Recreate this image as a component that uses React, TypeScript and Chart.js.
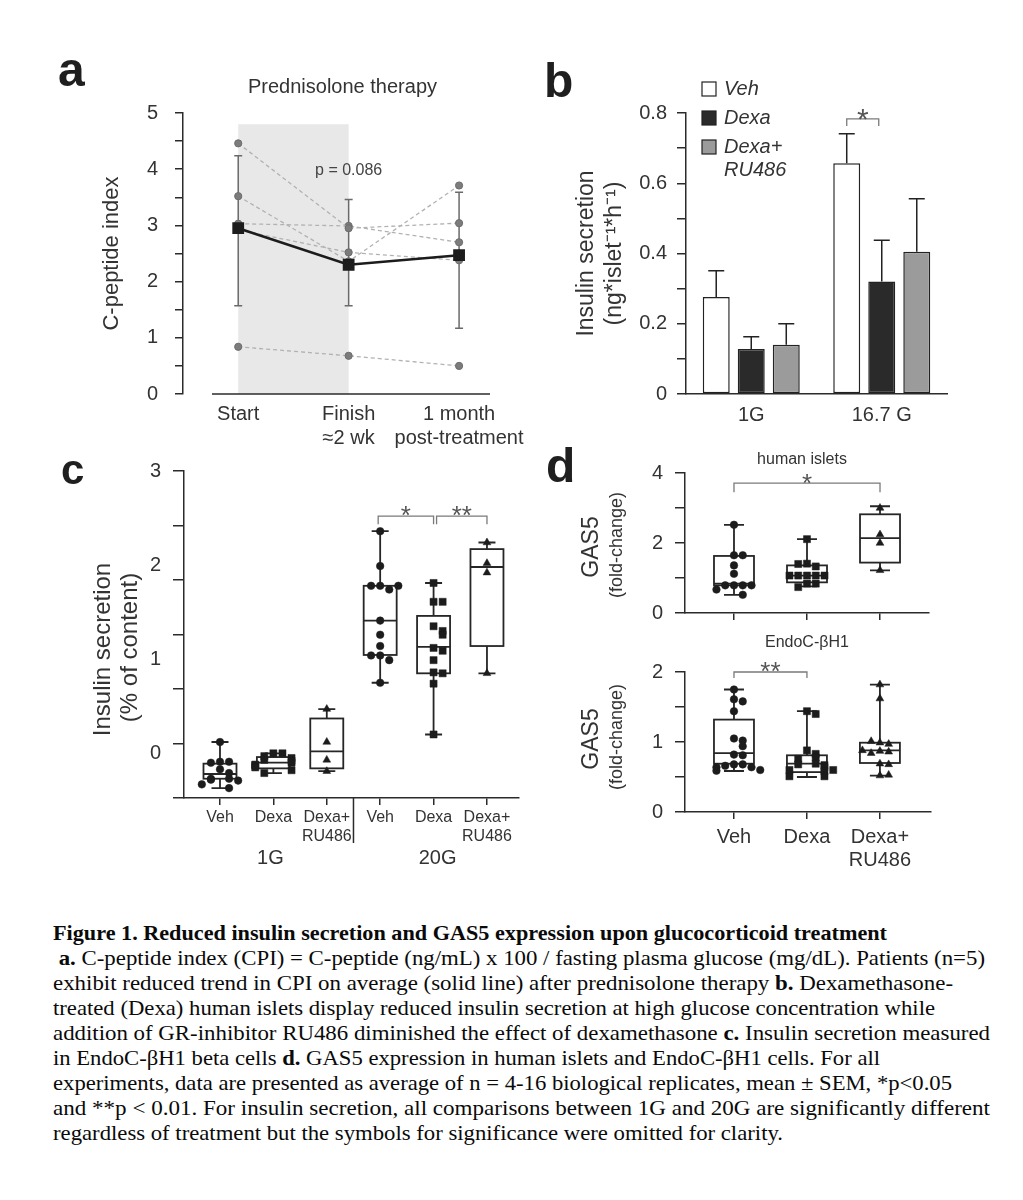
import React, { useEffect, useRef } from 'react';
import { Chart, registerables } from 'chart.js';

Chart.register(...registerables);

const SANS = '"Liberation Sans", Arial, Helvetica, sans-serif';
const INK = '#2b2b2b';
const LABEL = '#333333';

// ---------------- Panel a data ----------------
const aTitle = 'Prednisolone therapy';
const aCategories = [['Start'], ['Finish', '≈2 wk'], ['1 month', 'post-treatment']];
const aPatient1 = [4.46, 2.95, 3.04];
const aPatient2 = [3.52, 2.36, 3.71];
const aPatient3 = [3.03, 2.99, 2.7];
const aPatient4 = [2.92, 2.52, 2.38];
const aPatient5 = [0.84, 0.68, 0.5];
const aMean = [2.95, 2.3, 2.47];
const aLower = [1.57, 1.57, 1.17];
const aUpper = [4.24, 3.46, 3.59];
const aPValue = 'p = 0.086';
const aShadeTop = 4.8;
const aYTitle = 'C-peptide index';

// ---------------- Panel b data ----------------
const bCategories = ['1G', '16.7 G'];
const bSeries = ['Veh', 'Dexa', 'Dexa+ RU486'];
const bVeh = [0.276, 0.657];
const bDexa = [0.128, 0.32];
const bRU486 = [0.14, 0.405];
const bVehSem = [0.075, 0.084];
const bDexaSem = [0.035, 0.118];
const bRU486Sem = [0.06, 0.151];
const bYTitle = ['Insulin secretion', '(ng*islet⁻¹*h⁻¹)'];
const bBracketY = 0.783;

// ---------------- Panel c data ----------------
const cCategories = [['Veh'], ['Dexa'], ['Dexa+', 'RU486'], ['Veh'], ['Dexa'], ['Dexa+', 'RU486']];
const cGroups = ['1G', '20G'];
const cYLabels = [0, 1, 2, 3];
const cYTitle = ['Insulin secretion', '(% of content)'];
const cVeh1G = [0.12, -0.09, -0.09, -0.1, -0.17, -0.21, -0.27, -0.27, -0.28, -0.29, -0.33, -0.37];
const cDexa1G = [0.0, 0.0, -0.03, -0.05, -0.07, -0.08, -0.1, -0.12, -0.13, -0.15, -0.18, -0.21];
const cRU1G = [0.47, 0.12, -0.07, -0.19];
const cVeh20G = [2.36, 1.99, 1.78, 1.74, 1.78, 1.78, 1.41, 1.26, 1.14, 1.04, 0.99, 1.04, 0.75];
const cDexa20G = [1.81, 1.61, 1.61, 1.35, 1.3, 1.26, 1.12, 1.09, 0.99, 0.86, 0.85, 0.74, 0.2];
const cRU20G = [2.24, 2.02, 1.92, 0.85];
// box stats: [min, q1, median, q3, max]
const cBoxVeh1G = [-0.37, -0.27, -0.22, -0.11, 0.12];
const cBoxDexa1G = [-0.21, -0.16, -0.1, -0.04, 0.0];
const cBoxRU1G = [-0.19, -0.16, 0.02, 0.37, 0.47];
const cBoxVeh20G = [0.75, 1.045, 1.41, 1.78, 2.36];
const cBoxDexa20G = [0.2, 0.85, 1.13, 1.46, 1.81];
const cBoxRU20G = [0.85, 1.14, 1.98, 2.17, 2.24];
const cBrackets: [number, number, number, string][] = [[3, 4, 2.52, '*'], [4, 5, 2.52, '**']];

// ---------------- Panel d data ----------------
const dCategories = [['Veh'], ['Dexa'], ['Dexa+', 'RU486']];
const dTopTitle = 'human islets';
const dBottomTitle = 'EndoC-βH1';
const dYTitle = ['GAS5', '(fold-change)'];
const dIsletsVeh = [2.52, 1.65, 1.65, 1.36, 1.12, 0.79, 0.79, 0.79, 0.79, 0.67, 0.52];
const dIsletsDexa = [2.11, 1.41, 1.33, 1.4, 1.07, 1.07, 1.07, 1.07, 1.07, 0.84, 0.84, 0.74];
const dIsletsRU = [3.0, 2.24, 2.0, 1.22];
const dIsletsBoxVeh = [0.52, 0.79, 0.84, 1.63, 2.52];
const dIsletsBoxDexa = [0.76, 0.876, 1.07, 1.36, 2.11];
const dIsletsBoxRU = [1.22, 1.44, 2.14, 2.82, 3.05];
const dIsletsBracket: [number, number, number, string] = [0, 2, 3.71, '*'];
const dEndoVeh = [1.75, 1.61, 1.58, 1.44, 1.05, 1.02, 0.94, 0.82, 0.81, 0.68, 0.68, 0.66, 0.64, 0.64, 0.6, 0.59];
const dEndoDexa = [1.44, 1.4, 0.88, 0.83, 0.78, 0.76, 0.69, 0.68, 0.67, 0.64, 0.6, 0.6, 0.58, 0.51, 0.51];
const dEndoRU = [1.82, 1.62, 0.99, 0.97, 1.01, 0.87, 0.86, 0.84, 0.88, 0.69, 0.68, 0.52, 0.53];
const dEndoBoxVeh = [0.586, 0.69, 0.84, 1.32, 1.75];
const dEndoBoxDexa = [0.5, 0.57, 0.69, 0.81, 1.44];
const dEndoBoxRU = [0.52, 0.7, 0.88, 0.99, 1.82];
const dEndoBracket: [number, number, number, string] = [0, 1, 2.0, '**'];

// ---------------- Caption ----------------
const captionLines: { t: string; b?: boolean }[][] = [
  [{ t: 'Figure 1. Reduced insulin secretion and GAS5 expression upon glucocorticoid treatment', b: true }],
  [{ t: ' a.', b: true }, { t: ' C-peptide index (CPI) = C-peptide (ng/mL) x 100 / fasting plasma glucose (mg/dL). Patients (n=5)' }],
  [{ t: 'exhibit reduced trend in CPI on average (solid line) after prednisolone therapy ' }, { t: 'b.', b: true }, { t: ' Dexamethasone-' }],
  [{ t: 'treated (Dexa) human islets display reduced insulin secretion at high glucose concentration while' }],
  [{ t: 'addition of GR-inhibitor RU486 diminished the effect of dexamethasone ' }, { t: 'c.', b: true }, { t: ' Insulin secretion measured' }],
  [{ t: 'in EndoC-βH1 beta cells ' }, { t: 'd.', b: true }, { t: ' GAS5 expression in human islets and EndoC-βH1 cells. For all' }],
  [{ t: 'experiments, data are presented as average of n = 4-16 biological replicates, mean ± SEM, *p<0.05' }],
  [{ t: 'and **p < 0.01. For insulin secretion, all comparisons between 1G and 20G are significantly different' }],
  [{ t: 'regardless of treatment but the symbols for significance were omitted for clarity.' }],
];
// right edge of each caption line in the reference layout
const captionRight = [887, 985, 953, 935, 990, 880, 952, 990, 783];

// ---------------- helpers ----------------
const fixed = (w: number | null, h: number | null) => (s: any) => {
  if (w !== null) s.width = w;
  if (h !== null) s.height = h;
  s.paddingLeft = 0;
  s.paddingRight = 0;
  s.paddingTop = 0;
  s.paddingBottom = 0;
};

const baseOptions = {
  responsive: false,
  animation: false,
  events: [],
  plugins: { legend: { display: false }, tooltip: { enabled: false }, title: { display: false } },
};

function pickSerif(): string {
  const cands = ['Liberation Serif', 'Tinos', 'Times New Roman', 'Nimbus Roman', 'Nimbus Roman No9 L', 'FreeSerif', 'DejaVu Serif Condensed', 'Noto Serif', 'DejaVu Serif'];
  try {
    const ctx = document.createElement('canvas').getContext('2d');
    if (!ctx) return 'serif';
    const s = 'abcdefghijklmnopqrstuvwxyz ABCDEFGHIJKLM 0123456789 ilWm';
    const widths = (f: string) => {
      ctx.font = `20px ${f}`;
      return ctx.measureText(s).width;
    };
    const mono = widths('monospace');
    const sans = widths('sans-serif');
    for (const c of cands) {
      const w1 = widths(`"${c}", monospace`);
      const w2 = widths(`"${c}", sans-serif`);
      if (w1 !== mono || w2 !== sans) return `"${c}"`;
    }
  } catch (e) {
    return 'serif';
  }
  return 'serif';
}

function swarm(values: number[], thr: number, step: number): number[] {
  const seq = [0, 1, -1, 2, -2, 3, -3, 4, -4, 5, -5];
  return values.map((v, i) => {
    let n = 0;
    for (let j = 0; j < i; j++) if (Math.abs(values[j] - v) < thr) n++;
    return seq[Math.min(n, seq.length - 1)] * step;
  });
}

function drawBoxes(chart: any, boxes: number[][], boxW: number, capW: number) {
  const { ctx, scales } = chart;
  const x = scales.x;
  const y = scales.y;
  ctx.save();
  ctx.strokeStyle = '#262626';
  ctx.lineWidth = 1.8;
  boxes.forEach((b, i) => {
    const [mn, q1, md, q3, mx] = b;
    const cx = x.getPixelForValue(i);
    const p = (v: number) => y.getPixelForValue(v);
    ctx.beginPath();
    ctx.moveTo(cx, p(mx));
    ctx.lineTo(cx, p(q3));
    ctx.moveTo(cx, p(q1));
    ctx.lineTo(cx, p(mn));
    ctx.moveTo(cx - capW / 2, p(mx));
    ctx.lineTo(cx + capW / 2, p(mx));
    ctx.moveTo(cx - capW / 2, p(mn));
    ctx.lineTo(cx + capW / 2, p(mn));
    ctx.stroke();
    ctx.fillStyle = '#ffffff';
    ctx.fillRect(cx - boxW / 2, p(q3), boxW, p(q1) - p(q3));
    ctx.strokeRect(cx - boxW / 2, p(q3), boxW, p(q1) - p(q3));
    ctx.beginPath();
    ctx.moveTo(cx - boxW / 2, p(md));
    ctx.lineTo(cx + boxW / 2, p(md));
    ctx.stroke();
  });
  ctx.restore();
}

function drawBracket(ctx: any, x0: number, x1: number, yPix: number, tip: number, label: string, fs: number, gap: number) {
  ctx.save();
  ctx.strokeStyle = '#7a7a7a';
  ctx.lineWidth = 1.3;
  ctx.beginPath();
  ctx.moveTo(x0, yPix + tip);
  ctx.lineTo(x0, yPix);
  ctx.lineTo(x1, yPix);
  ctx.lineTo(x1, yPix + tip);
  ctx.stroke();
  ctx.fillStyle = '#555555';
  ctx.font = `${fs}px ${SANS}`;
  ctx.textAlign = 'center';
  ctx.textBaseline = 'alphabetic';
  ctx.fillText(label, (x0 + x1) / 2, yPix - gap + 0.58 * fs);
  ctx.restore();
}

function drawRotated(ctx: any, text: string, font: string, cx: number, cy: number) {
  ctx.save();
  ctx.translate(cx, cy);
  ctx.rotate(-Math.PI / 2);
  ctx.font = font;
  ctx.fillStyle = LABEL;
  ctx.textAlign = 'center';
  ctx.textBaseline = 'middle';
  ctx.fillText(text, 0, 0);
  ctx.restore();
}

function scatterSet(values: number[], idx: number, style: string, radius: number, thr: number, step: number) {
  const off = swarm(values, thr, step);
  return {
    type: 'scatter',
    yAxisID: 'y',
    data: values.map((v, k) => ({ x: idx + off[k], y: v })),
    pointStyle: style,
    pointRadius: radius,
    pointBackgroundColor: '#1c1c1c',
    pointBorderColor: '#1c1c1c',
    pointBorderWidth: 0.5,
    showLine: false,
  };
}

// ---------------- Panel a ----------------
function makeA() {
  const patients = [aPatient1, aPatient2, aPatient3, aPatient4, aPatient5];
  const pts = (arr: number[]) => arr.map((v, i) => ({ x: i, y: v }));
  const plugin = {
    id: 'panelA',
    beforeDatasetsDraw(chart: any) {
      const { ctx, scales } = chart;
      const { x, y } = scales;
      ctx.save();
      ctx.fillStyle = '#e8e8e8';
      const x0 = x.getPixelForValue(0);
      const x1 = x.getPixelForValue(1);
      const yt = y.getPixelForValue(aShadeTop);
      const yb = y.getPixelForValue(0);
      ctx.fillRect(x0, yt, x1 - x0, yb - yt);
      ctx.strokeStyle = '#6a6a6a';
      ctx.lineWidth = 1.5;
      aMean.forEach((_, i) => {
        const px = x.getPixelForValue(i);
        const lo = y.getPixelForValue(aLower[i]);
        const hi = y.getPixelForValue(aUpper[i]);
        ctx.beginPath();
        ctx.moveTo(px, lo);
        ctx.lineTo(px, hi);
        ctx.moveTo(px - 4, lo);
        ctx.lineTo(px + 4, lo);
        ctx.moveTo(px - 4, hi);
        ctx.lineTo(px + 4, hi);
        ctx.stroke();
      });
      ctx.restore();
    },
    afterDraw(chart: any) {
      const { ctx, chartArea: ca, scales } = chart;
      const { x, y } = scales;
      ctx.save();
      ctx.strokeStyle = INK;
      ctx.lineWidth = 1.5;
      ctx.beginPath();
      ctx.moveTo(ca.left + 29, ca.bottom);
      ctx.lineTo(ca.right, ca.bottom);
      ctx.stroke();
      ctx.fillStyle = LABEL;
      ctx.textAlign = 'center';
      ctx.textBaseline = 'middle';
      ctx.font = `20px ${SANS}`;
      ctx.fillText(aTitle, (ca.left + ca.right) / 2 + 6, ca.top - 26);
      ctx.fillStyle = '#444444';
      ctx.font = `16px ${SANS}`;
      ctx.fillText(aPValue, x.getPixelForValue(1), y.getPixelForValue(3.97));
      ctx.restore();
    },
  };
  return {
    type: 'line',
    data: {
      datasets: [
        {
          label: 'Mean',
          data: pts(aMean),
          order: 0,
          borderColor: '#1c1c1c',
          borderWidth: 2.6,
          pointStyle: 'rect',
          pointRadius: 6.5,
          pointBackgroundColor: '#1c1c1c',
          pointBorderColor: '#1c1c1c',
        },
        ...patients.map((p, i) => ({
          label: 'Patient ' + (i + 1),
          data: pts(p),
          order: 1,
          borderColor: '#b2b2b2',
          borderWidth: 1.3,
          borderDash: [4, 3],
          pointRadius: 3.6,
          pointBackgroundColor: '#7c7c7c',
          pointBorderColor: '#6c6c6c',
          pointBorderWidth: 1,
        })),
      ],
    },
    options: {
      ...baseOptions,
      layout: { padding: { top: 53, right: 50, left: 0, bottom: 0 } },
      scales: {
        x: {
          type: 'linear',
          min: -0.5,
          max: 2.28,
          afterBuildTicks: (s: any) => {
            s.ticks = aCategories.map((_, i) => ({ value: i }));
          },
          afterFit: fixed(null, 66),
          grid: { display: false, drawTicks: false },
          border: { display: false },
          ticks: {
            callback: (_v: any, i: number) => aCategories[i],
            font: { family: SANS, size: 20, lineHeight: 1.2 },
            color: LABEL,
            padding: 8,
            maxRotation: 0,
            minRotation: 0,
            autoSkip: false,
          },
        },
        y: {
          min: 0,
          max: 5,
          afterFit: fixed(123, null),
          ticks: {
            stepSize: 0.5,
            autoSkip: false,
            callback: (v: number) => (Number.isInteger(v) ? String(v) : ''),
            font: { family: SANS, size: 20 },
            color: LABEL,
            padding: 17,
          },
          grid: { drawOnChartArea: false, drawTicks: true, tickLength: 8, color: INK, lineWidth: 1.5 },
          border: { display: true, color: INK, width: 1.5 },
          title: {
            display: true,
            text: aYTitle,
            font: { family: SANS, size: 22, lineHeight: 1.2 },
            color: LABEL,
            padding: { top: 39, bottom: 0 },
          },
        },
      },
    },
    plugins: [plugin],
  };
}

// ---------------- Panel b ----------------
function makeB() {
  const values = [bVeh, bDexa, bRU486];
  const sems = [bVehSem, bDexaSem, bRU486Sem];
  const fills = ['#ffffff', '#2a2a2a', '#9b9b9b'];
  const plugin = {
    id: 'panelB',
    afterDatasetsDraw(chart: any) {
      const { ctx, scales } = chart;
      const y = scales.y;
      ctx.save();
      ctx.strokeStyle = '#222222';
      ctx.lineWidth = 1.5;
      values.forEach((vals, i) => {
        chart.getDatasetMeta(i).data.forEach((bar: any, j: number) => {
          const top = y.getPixelForValue(vals[j] + sems[i][j]);
          ctx.beginPath();
          ctx.moveTo(bar.x, bar.y);
          ctx.lineTo(bar.x, top);
          ctx.moveTo(bar.x - 8, top);
          ctx.lineTo(bar.x + 8, top);
          ctx.stroke();
        });
      });
      ctx.restore();
    },
    afterDraw(chart: any) {
      const { ctx, chartArea: ca, scales } = chart;
      const y = scales.y;
      ctx.save();
      let ty = ca.top - 24;
      bSeries.forEach((name, i) => {
        ctx.fillStyle = fills[i];
        ctx.strokeStyle = '#222222';
        ctx.lineWidth = 1.2;
        ctx.fillRect(ca.left + 16, ty - 7, 14, 14);
        ctx.strokeRect(ca.left + 16, ty - 7, 14, 14);
        ctx.fillStyle = LABEL;
        ctx.font = `italic 20px ${SANS}`;
        ctx.textAlign = 'left';
        ctx.textBaseline = 'middle';
        const parts = name.split(' ');
        parts.forEach((p, k) => ctx.fillText(p, ca.left + 38, ty + k * 23));
        ty += 29;
      });
      ctx.restore();
      const b0 = chart.getDatasetMeta(0).data[1];
      const b1 = chart.getDatasetMeta(1).data[1];
      drawBracket(ctx, b0.x, b1.x - 3, y.getPixelForValue(bBracketY), 7, '*', 30, 7);
    },
  };
  return {
    type: 'bar',
    data: {
      labels: bCategories,
      datasets: values.map((vals, i) => ({
        label: bSeries[i],
        data: vals,
        backgroundColor: fills[i],
        borderColor: '#222222',
        borderWidth: 1.5,
        borderSkipped: false,
        categoryPercentage: 0.805,
        barPercentage: 0.77,
      })),
    },
    options: {
      ...baseOptions,
      layout: { padding: { top: 53, right: 28, left: 0, bottom: 0 } },
      scales: {
        x: {
          afterFit: fixed(null, 46),
          grid: { display: false, drawTicks: false },
          border: { display: true, color: INK, width: 1.5 },
          ticks: { font: { family: SANS, size: 20, lineHeight: 1.2 }, color: LABEL, padding: 9, maxRotation: 0 },
        },
        y: {
          min: 0,
          max: 0.8,
          afterFit: fixed(141, null),
          ticks: {
            stepSize: 0.1,
            autoSkip: false,
            callback: (v: number) => {
              const t = Math.round(v * 10);
              if (t % 2 !== 0) return '';
              return t === 0 ? '0' : (t / 10).toFixed(1);
            },
            font: { family: SANS, size: 20 },
            color: LABEL,
            padding: 10,
          },
          grid: { drawOnChartArea: false, drawTicks: true, tickLength: 9, color: INK, lineWidth: 1.5 },
          border: { display: true, color: INK, width: 1.5 },
          title: {
            display: true,
            text: bYTitle,
            font: { family: SANS, size: 23, lineHeight: 1.22 },
            color: LABEL,
            padding: { top: 28, bottom: 0 },
          },
        },
      },
    },
    plugins: [plugin],
  };
}

// ---------------- Panel c ----------------
function makeC() {
  const groups = [cVeh1G, cDexa1G, cRU1G, cVeh20G, cDexa20G, cRU20G];
  const boxes = [cBoxVeh1G, cBoxDexa1G, cBoxRU1G, cBoxVeh20G, cBoxDexa20G, cBoxRU20G];
  const styles = ['circle', 'rect', 'triangle', 'circle', 'rect', 'triangle'];
  const radii = [3.8, 5, 4.5, 3.8, 5, 4.5];
  const plugin = {
    id: 'panelC',
    beforeDatasetsDraw(chart: any) {
      drawBoxes(chart, boxes, 33, 17);
    },
    afterDraw(chart: any) {
      const { ctx, chartArea: ca, scales } = chart;
      const { x, y } = scales;
      ctx.save();
      ctx.strokeStyle = INK;
      ctx.lineWidth = 1.5;
      const sx = x.getPixelForValue(2.5);
      ctx.beginPath();
      ctx.moveTo(sx, ca.bottom);
      ctx.lineTo(sx, ca.bottom + 45);
      ctx.stroke();
      ctx.fillStyle = LABEL;
      ctx.font = `20px ${SANS}`;
      ctx.textAlign = 'center';
      ctx.textBaseline = 'middle';
      ctx.fillText(cGroups[0], x.getPixelForValue(1) - 3, ca.bottom + 60);
      ctx.fillText(cGroups[1], x.getPixelForValue(4) + 4, ca.bottom + 60);
      ctx.restore();
      // y-axis title, centred on the visible value range
      const cy = (ca.top + ca.bottom) / 2 + 15;
      drawRotated(ctx, cYTitle[0], `24px ${SANS}`, y.left + 33, cy);
      drawRotated(ctx, cYTitle[1], `24px ${SANS}`, y.left + 60, cy - 2);
      cBrackets.forEach(([a, b, v, lab], k) => {
        const x0 = x.getPixelForValue(a) + (k === 1 ? 3 : -2);
        const x1 = x.getPixelForValue(b);
        drawBracket(ctx, x0, x1, y.getPixelForValue(v), 8, lab, 26, 7);
      });
    },
  };
  return {
    type: 'scatter',
    data: {
      datasets: groups.map((g, i) => scatterSet(g, i, styles[i], radii[i], 0.07, 0.17)),
    },
    options: {
      ...baseOptions,
      layout: { padding: { top: 31, right: 21, left: 0, bottom: 0 } },
      scales: {
        x: {
          type: 'linear',
          min: -0.674,
          max: 5.6,
          afterBuildTicks: (s: any) => {
            s.ticks = cCategories.map((_, i) => ({ value: i }));
          },
          afterFit: fixed(null, 82),
          grid: { display: true, drawOnChartArea: false, drawTicks: true, tickLength: 7, color: INK, lineWidth: 1.5 },
          border: { display: true, color: INK, width: 1.5 },
          ticks: {
            callback: (_v: any, i: number) => cCategories[i],
            font: { family: SANS, size: 16, lineHeight: 1.2 },
            color: LABEL,
            padding: 3,
            maxRotation: 0,
            minRotation: 0,
            autoSkip: false,
          },
        },
        y: {
          position: 'left',
          weight: 2,
          min: -0.475,
          max: 3,
          afterBuildTicks: (s: any) => {
            s.ticks = cYLabels.map((v) => ({ value: v }));
          },
          afterFit: fixed(103, null),
          ticks: { font: { family: SANS, size: 20 }, color: LABEL, padding: 12, autoSkip: false },
          grid: { display: false, drawTicks: false },
          border: { display: false },
        },
        yt: {
          position: 'left',
          weight: 1,
          min: 0,
          max: 3,
          afterFit: fixed(11, null),
          ticks: { display: false, stepSize: 0.5 },
          grid: { drawOnChartArea: false, drawTicks: true, tickLength: 11, color: INK, lineWidth: 1.5 },
          border: { display: true, color: INK, width: 1.5 },
        },
      },
    },
    plugins: [plugin],
  };
}

// ---------------- Panel d ----------------
function makeD(which: 'top' | 'bottom') {
  const isTop = which === 'top';
  const groups = isTop ? [dIsletsVeh, dIsletsDexa, dIsletsRU] : [dEndoVeh, dEndoDexa, dEndoRU];
  const boxes = isTop ? [dIsletsBoxVeh, dIsletsBoxDexa, dIsletsBoxRU] : [dEndoBoxVeh, dEndoBoxDexa, dEndoBoxRU];
  const bracket = isTop ? dIsletsBracket : dEndoBracket;
  const styles = ['circle', 'rect', 'triangle'];
  const radii = [3.8, 5, 4.5];
  const plugin = {
    id: 'panelD' + which,
    beforeDatasetsDraw(chart: any) {
      drawBoxes(chart, boxes, 40, 20);
    },
    afterDraw(chart: any) {
      const { ctx, chartArea: ca, scales } = chart;
      const { x, y } = scales;
      const [a, b, v, lab] = bracket;
      drawBracket(ctx, x.getPixelForValue(a), x.getPixelForValue(b), y.getPixelForValue(v), isTop ? 9 : 6, lab, 26, isTop ? 6 : 7);
      ctx.save();
      ctx.fillStyle = LABEL;
      ctx.font = `16px ${SANS}`;
      ctx.textAlign = 'center';
      ctx.textBaseline = 'middle';
      ctx.fillText(isTop ? dTopTitle : dBottomTitle, x.getPixelForValue(1) - (isTop ? 5 : 0), isTop ? ca.top - 13 : ca.top - 29);
      ctx.restore();
      const cy = (ca.top + ca.bottom) / 2 + (isTop ? 4 : -3);
      drawRotated(ctx, dYTitle[0], `23px ${SANS}`, y.left + 22, cy);
      drawRotated(ctx, dYTitle[1], `18px ${SANS}`, y.left + 47, cy - 2);
    },
  };
  return {
    type: 'scatter',
    data: {
      datasets: groups.map((g, i) => scatterSet(g, i, styles[i], radii[i], isTop ? 0.2 : 0.09, 0.12)),
    },
    options: {
      ...baseOptions,
      layout: { padding: { top: isTop ? 28 : 47, right: isTop ? 41 : 39, left: 0, bottom: 0 } },
      scales: {
        x: {
          type: 'linear',
          min: -0.671,
          max: isTop ? 2.671 : 2.7,
          afterBuildTicks: (s: any) => {
            s.ticks = dCategories.map((_, i) => ({ value: i }));
          },
          afterFit: fixed(null, isTop ? 22 : 63),
          grid: { display: true, drawOnChartArea: false, drawTicks: true, tickLength: 7, color: INK, lineWidth: 1.5 },
          border: { display: true, color: INK, width: 1.5 },
          ticks: {
            display: !isTop,
            callback: (_v: any, i: number) => dCategories[i],
            font: { family: SANS, size: 20, lineHeight: 1.15 },
            color: LABEL,
            padding: 7,
            maxRotation: 0,
            minRotation: 0,
            autoSkip: false,
          },
        },
        y: {
          min: 0,
          max: isTop ? 4 : 2,
          afterFit: fixed(115, null),
          ticks: {
            stepSize: isTop ? 1 : 0.5,
            autoSkip: false,
            callback: (v: number) => {
              if (isTop) return Math.round(v) % 2 === 0 ? String(v) : '';
              return Number.isInteger(v) ? String(v) : '';
            },
            font: { family: SANS, size: 20 },
            color: LABEL,
            padding: 12,
          },
          grid: { drawOnChartArea: false, drawTicks: true, tickLength: 10, color: INK, lineWidth: 1.5 },
          border: { display: true, color: INK, width: 1.5 },
        },
      },
    },
    plugins: [plugin],
  };
}

// ---------------- components ----------------
function Panel({ box, make }: { box: [number, number, number, number]; make: () => any }) {
  const ref = useRef<HTMLCanvasElement | null>(null);
  useEffect(() => {
    const chart = new Chart(ref.current as HTMLCanvasElement, make());
    return () => chart.destroy();
  }, []);
  const [left, top, width, height] = box;
  return <canvas ref={ref} width={width} height={height} style={{ position: 'absolute', left, top, width, height }} />;
}

function Letter({ ch, x, baseline, size }: { ch: string; x: number; baseline: number; size: number }) {
  return (
    <div
      style={{
        position: 'absolute',
        left: x,
        top: baseline - 0.8465 * size,
        fontFamily: SANS,
        fontWeight: 700,
        fontSize: size,
        lineHeight: `${size}px`,
        color: '#1f1f1f',
      }}
    >
      {ch}
    </div>
  );
}

function Caption() {
  const serif = pickSerif();
  const family = `${serif}, serif`;
  const size = 21.5;
  const left = 53;
  const scales = captionLines.map((line, i) => {
    try {
      const ctx = document.createElement('canvas').getContext('2d');
      if (!ctx) return 1;
      let w = 0;
      line.forEach((seg) => {
        ctx.font = `${seg.b ? 'bold ' : ''}${size}px ${family}`;
        w += ctx.measureText(seg.t).width;
      });
      return w > 0 ? (captionRight[i] - left) / w : 1;
    } catch (e) {
      return 1;
    }
  });
  return (
    <>
      {captionLines.map((line, i) => (
        <div
          key={i}
          style={{
            position: 'absolute',
            left,
            top: 921 + i * 25,
            fontFamily: family,
            fontSize: size,
            lineHeight: '25px',
            whiteSpace: 'pre',
            color: '#0a0a0a',
            transform: `scaleX(${scales[i]})`,
            transformOrigin: 'left top',
          }}
        >
          {line.map((seg, j) => (
            <span key={j} style={{ fontWeight: seg.b ? 700 : 400 }}>
              {seg.t}
            </span>
          ))}
        </div>
      ))}
    </>
  );
}

export default function App() {
  return (
    <div style={{ position: 'absolute', left: 0, top: 0, width: 1023, height: 1200, background: '#ffffff', overflow: 'hidden' }}>
      <Panel box={[60, 60, 480, 400]} make={makeA} />
      <Panel box={[545, 60, 430, 380]} make={makeB} />
      <Panel box={[70, 440, 470, 440]} make={makeC} />
      <Panel box={[570, 445, 400, 190]} make={() => makeD('top')} />
      <Panel box={[570, 625, 400, 250]} make={() => makeD('bottom')} />
      <Letter ch="a" x={58} baseline={87} size={48} />
      <Letter ch="b" x={544} baseline={98} size={48} />
      <Letter ch="c" x={61} baseline={485} size={42} />
      <Letter ch="d" x={546} baseline={483} size={48} />
      <Caption />
    </div>
  );
}
